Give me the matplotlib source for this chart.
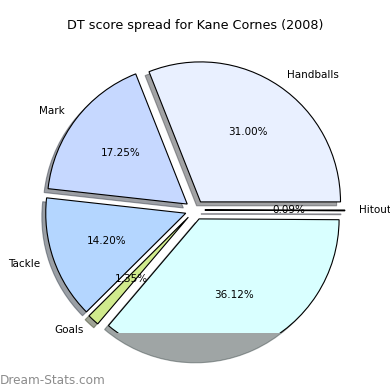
import matplotlib
matplotlib.use("Agg")
import matplotlib.pyplot as plt
from matplotlib.patches import Shadow

# --- DT score breakdown ---
labels = ["Handballs", "Mark", "Tackle", "Goals", "Kicks", "Hitout"]
shares = [31.00, 17.25, 14.20, 1.35, 36.12, 0.09]
colors = ["#e9f0ff", "#c6d8ff", "#b4d6ff", "#d0ea8c", "#d9ffff", "#e0e0ff"]
explode = [0.07] * len(shares)

fig = plt.figure(figsize=(3.9, 3.9), dpi=100)
# axes bottom sits at the clip line of the original picture
ax = fig.add_axes([0, 57 / 390, 1, 333 / 390])

wedges, texts, autotexts = ax.pie(
    shares, labels=labels, colors=colors, explode=explode,
    autopct="%.2f%%", shadow=True, startangle=0,
    wedgeprops={"edgecolor": "black", "linewidth": 0.8},
    textprops={"fontsize": 7.5},
)

ax.set_xlim(-195 / 140, 195 / 140)
ax.set_ylim(-123 / 140, 210 / 140)
ax.set_aspect("equal")
ax.set_axis_off()

# shadows spill below the clip line, wedges and labels don't
for p in ax.patches:
    if isinstance(p, Shadow):
        p.set_clip_on(False)
    else:
        p.set_clip_on(True)
        p.set_clip_path(ax.patch)
for t in texts + autotexts:
    t.set_clip_on(True)
    t.set_clip_path(ax.patch)

fig.text(0.5, 1 - 25 / 390, "DT score spread for Kane Cornes (2008)",
         ha="center", va="center", fontsize=9.2)
fig.text(0.0, 1 - 380 / 390, "Dream-Stats.com", ha="left", va="center",
         fontsize=8.7, color="#8c8c8c")

fig.savefig("out.png", dpi=100)
